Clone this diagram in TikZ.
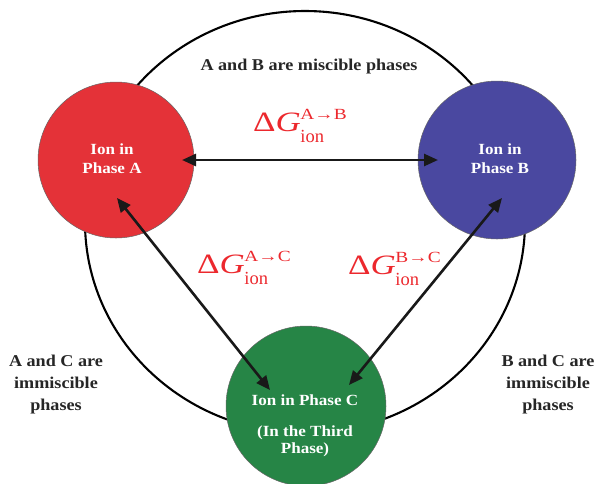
\documentclass[tikz,border=0pt]{standalone}
\usepackage{fontspec}
\setmainfont{Liberation Serif}[FakeStretch=1.1]
\newfontfamily\dgfont{Liberation Serif}[FakeStretch=1.25]
\newfontfamily\ionfont{Liberation Serif}
\usetikzlibrary{arrows.meta}
\definecolor{phA}{RGB}{228,50,56}
\definecolor{phB}{RGB}{74,72,160}
\definecolor{phC}{RGB}{38,133,70}
\definecolor{lblred}{RGB}{236,40,45}
\newcommand{\dGion}[1]{\dgfont\fontsize{28}{28}\selectfont Δ\textit{G}\kern-0.5pt\raisebox{-11pt}{\rlap{\ionfont\fontsize{18.5}{18.5}\selectfont ion}}\raisebox{12pt}{\dgfont\fontsize{15.5}{15.5}\selectfont #1}}
\tikzset{
  phase/.style={circle, draw=black!60, line width=0.5pt, minimum size=#1, inner sep=0pt},
  intext/.style={text=white, font=\fontsize{15.5}{19}\selectfont\bfseries, align=center, anchor=base},
  note/.style={text=black!85, font=\fontsize{16.5}{22}\selectfont\bfseries, align=center, anchor=base},
  dglabel/.style={text=lblred, anchor=base west, inner sep=0pt},
  link/.style={line width=2.6pt, black!90, {Triangle[length=14pt,width=12pt]}-{Triangle[length=14pt,width=12pt]}}
}
\begin{document}
\begin{tikzpicture}[x=1pt,y=-1pt]
\useasboundingbox (0,0) rectangle (599,483);
\draw[line width=2.1pt] (305,222) ellipse [x radius=220, y radius=211];
\node[phase=156pt, fill=phA] (A) at (116,160) {};
\node[phase=158pt, fill=phB] (B) at (497,160) {};
\node[phase=160pt, fill=phC] (C) at (306,406) {};
\node[intext] (tA) at (112,173) {Ion in\\Phase A};
\node[intext] (tB) at (500,173) {Ion in\\Phase B};
\node[intext] (tC1) at (305,405) {Ion in Phase C};
\node[intext, font=\fontsize{15.5}{17}\selectfont\bfseries] (tC2) at (305,453) {(In the Third\\Phase)};
\coordinate (ACa) at (117,198);
\coordinate (ACc) at (270,390);
\coordinate (BCb) at (502,198);
\coordinate (BCc) at (349,385);
\draw[link] ([xshift=66pt]A.center) -- ([xshift=-59pt]B.center);
\draw[link] (ACa) -- (ACc);
\draw[link] (BCb) -- (BCc);
\node[note] (ab) at (309,70) {A and B are miscible phases};
\node[note] (ac) at (56,410) {A and C are\\immiscible\\phases};
\node[note] (bc) at (548,410) {B and C are\\immiscible\\phases};
\node[dglabel] (gAB) at (253,131) {\dGion{A→B}};
\node[dglabel] (gAC) at (197,273) {\dGion{A→C}};
\node[dglabel] (gBC) at (348,274) {\dGion{B→C}};
\end{tikzpicture}
\end{document}
